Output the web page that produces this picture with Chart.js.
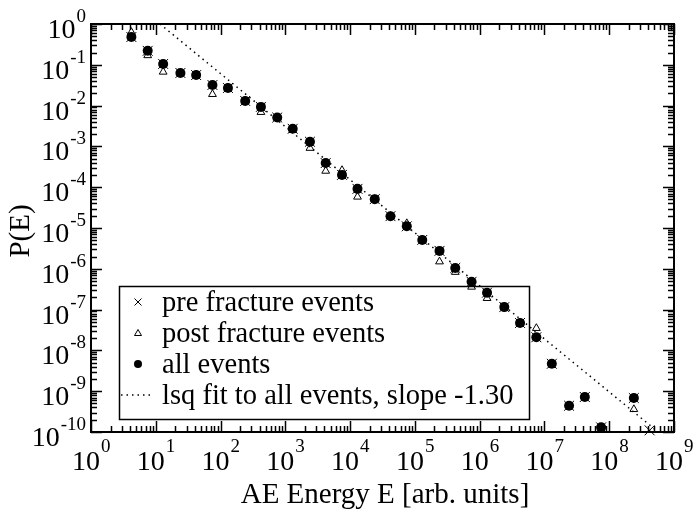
<!DOCTYPE html>
<html>
<head>
<meta charset="utf-8">
<title>P(E) vs AE energy</title>
<script src="https://cdn.jsdelivr.net/npm/chart.js@4.4.1/dist/chart.umd.min.js"></script>
<style>
  html, body { margin: 0; padding: 0; background: #fff; }
  canvas { display: block; }
</style>
</head>
<body>
<canvas id="chart" width="694" height="514"></canvas>
<script>
// energy bins (arb. units), one per log bin
const energy = [4.2, 7.5, 13, 24, 42, 75, 130, 240, 420, 750,
  1.3e3, 2.4e3, 4.2e3, 7.5e3, 1.3e4, 2.4e4, 4.2e4, 7.5e4, 1.3e5, 2.4e5,
  4.2e5, 7.5e5, 1.3e6, 2.4e6, 4.2e6, 7.5e6, 1.3e7, 2.4e7, 4.2e7, 7.5e7,
  1.3e8, 2.4e8, 4.2e8];

const preFracture = [0.48, 0.22, 0.105, 0.063, 0.056, 0.032, 0.027, 0.013, 0.0093, 0.0051,
  0.0027, 0.0013, 3.9e-4, 2.0e-4, 9.1e-5, 5.1e-5, 1.95e-5, 1.1e-5, 5.1e-6, 2.75e-6,
  1.05e-6, 4.8e-7, 2.6e-7, 1.15e-7, 4.7e-8, 2.1e-8, 4.7e-9, 4.4e-10, 7.2e-10, 1.3e-10,
  null, 6.8e-10, 1.1e-10];

const postFracture = [0.63, 0.17, 0.067, 0.063, 0.056, 0.019, 0.027, 0.013, 0.0069, 0.0050,
  0.0025, 9.1e-4, 2.5e-4, 2.6e-4, 5.8e-5, 5.1e-5, 1.95e-5, 1.3e-5, 5.1e-6, 1.5e-6,
  8.3e-7, 3.6e-7, 1.9e-7, 1.15e-7, 4.7e-8, 3.5e-8, null, null, null, null,
  null, 3.6e-10, null];

const allEvents = [0.48, 0.22, 0.105, 0.063, 0.056, 0.032, 0.027, 0.013, 0.0093, 0.0051,
  0.0027, 0.0013, 3.9e-4, 2.0e-4, 9.1e-5, 5.1e-5, 1.95e-5, 1.1e-5, 5.1e-6, 2.75e-6,
  1.05e-6, 4.8e-7, 2.6e-7, 1.15e-7, 4.7e-8, 2.1e-8, 4.7e-9, 4.4e-10, 7.2e-10, 1.3e-10,
  null, 6.8e-10, null];

// least squares fit, slope -1.30 (end points where it meets the frame)
const fitEnergy = [11.6, 5.7e8];
const fitP = [1, 1e-10];

const xExponents = [0, 1, 2, 3, 4, 5, 6, 7, 8, 9];
const yExponents = [0, -1, -2, -3, -4, -5, -6, -7, -8, -9, -10];

const legendLabels = ['pre fracture events', 'post fracture events', 'all events',
  'lsq fit to all events, slope -1.30'];

const SERIF = '"Liberation Serif", "Times New Roman", serif';

function pairs(xs, ys) {
  const out = [];
  xs.forEach((v, i) => {
    if (ys[i] !== null) out.push({ x: v, y: ys[i] });
  });
  return out;
}

function drawMarker(ctx, kind, cx, cy) {
  ctx.beginPath();
  if (kind === 'cross') {
    ctx.lineWidth = 1;
    ctx.moveTo(cx - 3.5, cy - 3.5); ctx.lineTo(cx + 3.5, cy + 3.5);
    ctx.moveTo(cx + 3.5, cy - 3.5); ctx.lineTo(cx - 3.5, cy + 3.5);
    ctx.stroke();
  } else if (kind === 'triangle') {
    ctx.lineWidth = 1;
    ctx.moveTo(cx, cy - 3.5); ctx.lineTo(cx + 3.5, cy + 2.5); ctx.lineTo(cx - 3.5, cy + 2.5);
    ctx.closePath();
    ctx.stroke();
  } else if (kind === 'circle') {
    ctx.arc(cx, cy, 4, 0, Math.PI * 2);
    ctx.fill();
  } else {
    ctx.lineWidth = 1.5;
    ctx.setLineDash([1.5, 4]);
    ctx.moveTo(cx - 17, cy); ctx.lineTo(cx + 14, cy);
    ctx.stroke();
    ctx.setLineDash([]);
  }
}

const decorations = {
  id: 'decorations',
  afterDraw(chart) {
    const { ctx, chartArea: a } = chart;
    const xs = chart.scales.x, ys = chart.scales.y;
    ctx.save();
    ctx.strokeStyle = '#000';
    ctx.fillStyle = '#000';

    // inward ticks on all four sides
    ctx.lineWidth = 1.5;
    ctx.beginPath();
    for (let k = 0; k <= 9; k++) {
      for (let m = 1; m <= 9; m++) {
        if (k === 9 && m > 1) break;
        const px = Math.round(xs.getPixelForValue(m * Math.pow(10, k))) + 0.5;
        const len = m === 1 ? 11 : 6;
        ctx.moveTo(px, a.bottom); ctx.lineTo(px, a.bottom - len);
        ctx.moveTo(px, a.top); ctx.lineTo(px, a.top + len);
      }
    }
    for (let k = -10; k <= 0; k++) {
      for (let m = 1; m <= 9; m++) {
        if (k === 0 && m > 1) break;
        const py = Math.round(ys.getPixelForValue(m * Math.pow(10, k))) + 0.5;
        const len = m === 1 ? 11 : 6;
        ctx.moveTo(a.left, py); ctx.lineTo(a.left + len, py);
        ctx.moveTo(a.right, py); ctx.lineTo(a.right - len, py);
      }
    }
    ctx.stroke();

    // frame
    ctx.lineWidth = 2;
    ctx.strokeRect(a.left, a.top, a.right - a.left, a.bottom - a.top);

    // x tick labels
    ctx.textBaseline = 'alphabetic';
    xExponents.forEach(e => {
      const px = xs.getPixelForValue(Math.pow(10, e));
      ctx.font = '28px ' + SERIF;
      ctx.textAlign = 'right';
      ctx.fillText('10', px + 9, 470);
      ctx.font = '19px ' + SERIF;
      ctx.textAlign = 'left';
      ctx.fillText(String(e), px + 10, 452);
    });

    // y tick labels
    yExponents.forEach(e => {
      const py = ys.getPixelForValue(Math.pow(10, e));
      ctx.font = '19px ' + SERIF;
      ctx.textAlign = 'right';
      const sup = String(e);
      ctx.fillText(sup, 86, py - 2);
      const w = ctx.measureText(sup).width;
      ctx.font = '28px ' + SERIF;
      ctx.fillText('10', 86 - w - 1, py + 14);
    });

    // axis titles
    ctx.font = '29px ' + SERIF;
    ctx.textAlign = 'center';
    ctx.fillText('AE Energy E [arb. units]', 385, 503);
    ctx.save();
    ctx.translate(29, 231);
    ctx.rotate(-Math.PI / 2);
    ctx.fillText('P(E)', 0, 0);
    ctx.restore();

    // legend
    ctx.lineWidth = 1.5;
    ctx.strokeRect(119.5, 286.5, 410, 133);
    const kinds = ['cross', 'triangle', 'circle', 'line'];
    ctx.font = '28.5px ' + SERIF;
    ctx.textAlign = 'left';
    legendLabels.forEach((t, i) => {
      const cy = 302 + i * 31;
      drawMarker(ctx, kinds[i], 138, cy);
      ctx.fillText(t, 162, cy + 9);
    });
    ctx.restore();
  }
};

new Chart(document.getElementById('chart'), {
  type: 'scatter',
  data: {
    datasets: [
      {
        label: 'all events',
        data: pairs(energy, allEvents),
        pointStyle: 'circle',
        pointRadius: 5,
        backgroundColor: '#000',
        borderColor: '#000',
        borderWidth: 0,
        clip: false,
        order: 0
      },
      {
        label: 'post fracture events',
        data: pairs(energy, postFracture),
        pointStyle: 'triangle',
        pointRadius: 4.5,
        backgroundColor: 'rgba(0,0,0,0)',
        borderColor: '#000',
        borderWidth: 1,
        clip: false,
        order: 1
      },
      {
        label: 'pre fracture events',
        data: pairs(energy, preFracture),
        pointStyle: 'crossRot',
        pointRadius: 7,
        borderColor: '#000',
        borderWidth: 1,
        clip: false,
        order: 2
      },
      {
        label: 'lsq fit to all events, slope -1.30',
        type: 'line',
        data: pairs(fitEnergy, fitP),
        borderColor: '#000',
        borderWidth: 1.5,
        borderDash: [1.5, 4],
        pointRadius: 0,
        fill: false,
        order: 3
      }
    ]
  },
  options: {
    responsive: false,
    animation: false,
    layout: { padding: { top: 24, right: 20, left: 0, bottom: 0 } },
    plugins: { legend: { display: false }, tooltip: { enabled: false } },
    scales: {
      x: {
        type: 'logarithmic',
        min: 1,
        max: 1e9,
        grid: { display: false },
        border: { display: false },
        ticks: { display: false },
        afterFit: s => { s.height = 82; }
      },
      y: {
        type: 'logarithmic',
        min: 1e-10,
        max: 1,
        grid: { display: false },
        border: { display: false },
        ticks: { display: false },
        afterFit: s => { s.width = 91; }
      }
    }
  },
  plugins: [decorations]
});
</script>
</body>
</html>
